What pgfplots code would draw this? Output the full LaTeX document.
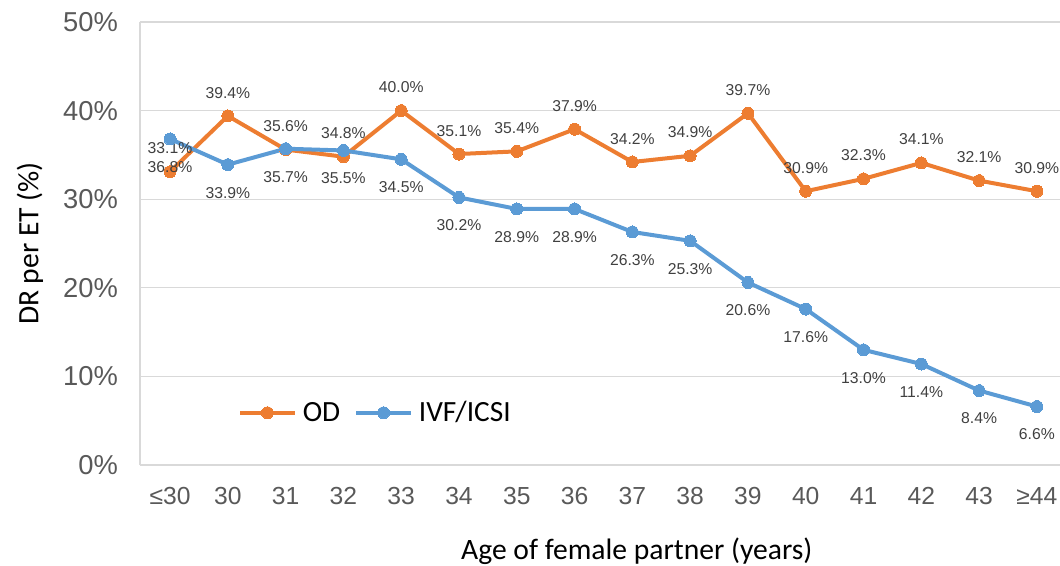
\documentclass[border=0pt]{standalone}
\usepackage{fontspec}
\setmainfont{Liberation Sans}
\newfontfamily\calfont{Carlito}
\usepackage{pgfplots}
\usepackage{pgfplotstable}
\pgfplotsset{compat=1.18}
\definecolor{odc}{HTML}{ED7D31}
\definecolor{ivfc}{HTML}{5B9BD5}
\definecolor{gridc}{HTML}{D9D9D9}
\definecolor{tickc}{HTML}{595959}
\definecolor{labc}{HTML}{404040}
\pgfplotstableread{
x od ivf
0 33.1 36.8
1 39.4 33.9
2 35.6 35.7
3 34.8 35.5
4 40.0 34.5
5 35.1 30.2
6 35.4 28.9
7 37.9 28.9
8 34.2 26.3
9 34.9 25.3
10 39.7 20.6
11 30.9 17.6
12 32.3 13.0
13 34.1 11.4
14 32.1 8.4
15 30.9 6.6
}\data
\begin{document}
\begin{tikzpicture}
\path[use as bounding box] (-105pt,-75pt) rectangle (690pt,348.75pt);
\begin{axis}[
  at={(0,0)}, anchor=south west,
  scale only axis, width=690pt, height=332.25pt,
  xmin=-0.52, xmax=15.4, ymin=0, ymax=50,
  axis x line=bottom, axis y line=left,
  axis line style={gridc, line width=1pt, -},
  major tick length=0pt,
  xtick={0,...,15},
  xticklabels={{≤30},30,31,32,33,34,35,36,37,38,39,40,41,42,43,{≥44}},
  ytick={0,10,...,50},
  yticklabel={\pgfmathprintnumber{\tick}\%},
  /pgf/number format/assume math mode=true,
  ymajorgrids, grid style={gridc, line width=1pt},
  xticklabel style={font=\fontsize{18.5}{21}\selectfont, text=tickc, yshift=-13pt},
  yticklabel style={font=\fontsize{20.5}{24}\selectfont, text=tickc, xshift=-13pt},
  xlabel={Age of female partner (years)},
  xlabel style={font=\calfont\fontsize{22.2}{26}\selectfont, at={(axis description cs:0.54,0)}, anchor=center, yshift=-64.5pt},
  ylabel={DR per ET (\%)},
  ylabel style={font=\calfont\fontsize{22.2}{26}\selectfont, at={(axis description cs:0,0.5)}, anchor=center, yshift=82.5pt},
  legend columns=2,
  legend style={at={(axis description cs:0.102,0.118)}, anchor=west, draw=none, fill=none,
    font=\calfont\fontsize{22}{26}\selectfont, text=black,
    /tikz/every even column/.append style={column sep=6pt},
    nodes={inner xsep=4.5pt}},
  legend image code/.code={
    \draw[mark repeat=2,mark phase=2,#1] plot coordinates {(0pt,0pt) (20.5pt,0pt) (41pt,0pt)};
  },
  point meta=y,
  nodes near coords={\pgfmathprintnumber[fixed,fixed zerofill,precision=1]{\pgfplotspointmeta}\%},
]
\addplot[odc, line width=3pt, mark=*, mark size=4.5pt,
  mark options={fill=odc, draw=odc, line width=0pt},
  every node near coord/.append style={font=\fontsize{11.8}{13}\selectfont, text=labc, anchor=center, yshift=17.5pt}]
  table[x=x, y=od] {\data};
\addlegendentry{OD}
\addplot[ivfc, line width=3pt, mark=*, mark size=4.5pt,
  mark options={fill=ivfc, draw=ivfc, line width=0pt},
  every node near coord/.append style={font=\fontsize{11.8}{13}\selectfont, text=labc, anchor=center, yshift=-21pt}]
  table[x=x, y=ivf] {\data};
\addlegendentry{IVF/ICSI}
\end{axis}
\end{tikzpicture}
\end{document}
